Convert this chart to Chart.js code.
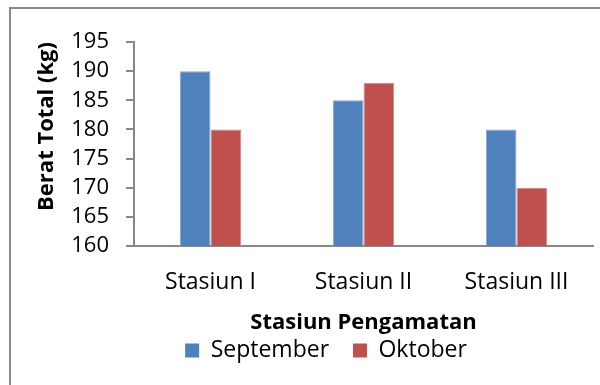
<!DOCTYPE html>
<html>
<head>
<meta charset="utf-8">
<script src="https://cdn.jsdelivr.net/npm/chart.js@4/dist/chart.umd.min.js"></script>
<style>
  html, body { margin: 0; padding: 0; background: #ffffff; }
  #wrap { position: relative; width: 600px; height: 385px; overflow: hidden; }
  #frame { position: absolute; left: 9px; top: 7px; width: 700px; height: 500px;
           border-top: 2px solid #8a8a8a; border-left: 2px solid #8a8a8a; }
  #chart { position: absolute; left: 0; top: 0; }
</style>
</head>
<body>
<div id="wrap">
  <div id="frame"></div>
  <canvas id="chart" width="600" height="385"></canvas>
</div>
<script>
// Total weight per observation station, by month
const stations = ['Stasiun I', 'Stasiun II', 'Stasiun III'];
const september = [190, 185, 180];
const oktober = [180, 188, 170];
const yMin = 160;
const yMax = 195;
const yStep = 5;

const FONT = "'Open Sans', 'Noto Sans', sans-serif";
const AXIS = '#888888';
const TEXT = '#000000';
const EDGE = { top: 1, right: 1, left: 1, bottom: 0 };

new Chart(document.getElementById('chart'), {
  type: 'bar',
  data: {
    labels: stations,
    datasets: [
      { label: 'September', data: september, backgroundColor: '#4F81BD',
        borderColor: '#84A6D3', borderWidth: EDGE, borderSkipped: false },
      { label: 'Oktober', data: oktober, backgroundColor: '#C0504D',
        borderColor: '#D68886', borderWidth: EDGE, borderSkipped: false }
    ]
  },
  options: {
    responsive: false,
    animation: false,
    events: [],
    datasets: { bar: { categoryPercentage: 0.4, barPercentage: 1.0 } },
    layout: { padding: { left: 59, right: 7, top: 42, bottom: 13 } },
    plugins: {
      tooltip: { enabled: false },
      legend: {
        position: 'bottom',
        labels: {
          color: TEXT,
          font: { family: FONT, size: 23 },
          boxWidth: 14,
          boxHeight: 14,
          padding: 6,
          // solid swatches, and a wider gap after the first entry
          generateLabels(chart) {
            const items = Chart.defaults.plugins.legend.labels.generateLabels(chart);
            items.forEach((it, i) => {
              it.lineWidth = 0;
              it.strokeStyle = it.fillStyle;
              if (i < items.length - 1) it.text = it.text + '   ';
            });
            return items;
          }
        }
      }
    },
    scales: {
      x: {
        grid: { display: true, drawOnChartArea: false, drawTicks: false, color: AXIS, lineWidth: 2 },
        border: { display: true, color: AXIS, width: 2 },
        ticks: { color: TEXT, font: { family: FONT, size: 23 }, padding: 23 },
        title: {
          display: true, text: 'Stasiun Pengamatan', color: TEXT,
          font: { family: FONT, size: 22, weight: 'bold' },
          padding: { top: 0, bottom: -3 }
        },
        afterFit(scale) { scale.height = 87; }
      },
      y: {
        min: yMin, max: yMax,
        grid: { display: true, drawOnChartArea: false, drawTicks: true, tickLength: 8, color: AXIS, lineWidth: 2 },
        border: { display: true, color: AXIS, width: 2 },
        ticks: { color: TEXT, font: { family: FONT, size: 22 }, padding: 17, stepSize: yStep, autoSkip: false },
        title: {
          display: true, text: 'Berat Total (kg)', color: TEXT, align: 'end',
          font: { family: FONT, size: 22, weight: 'bold' },
          padding: { top: -25, bottom: 0 }
        },
        afterFit(scale) { scale.width = 75; }
      }
    }
  }
});
</script>
</body>
</html>
